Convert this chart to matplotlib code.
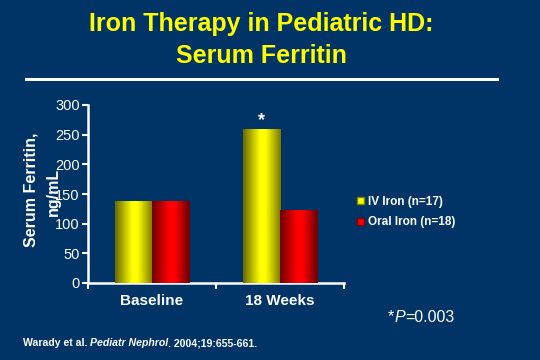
import numpy as np
import matplotlib
matplotlib.use("Agg")
import matplotlib.pyplot as plt
from matplotlib.colors import LinearSegmentedColormap
from matplotlib.offsetbox import TextArea, HPacker, AnchoredOffsetbox

plt.rcParams['font.family'] = ['Liberation Sans', 'DejaVu Sans']

categories = ["Baseline", "18 Weeks"]
iv_iron = [138, 259]
oral_iron = [138, 123]
series_labels = ["IV Iron (n=17)", "Oral Iron (n=18)"]
y_ticks = [0, 50, 100, 150, 200, 250, 300]

BG = '#003366'
fig = plt.figure(figsize=(5.4, 3.6), dpi=100, facecolor=BG)

# Title
fig.text(261/540, 1-24/360, "Iron Therapy in Pediatric HD:", color='#FFFF00',
         fontsize=18, fontweight='bold', ha='center', va='center')
fig.text(261/540, 1-56/360, "Serum Ferritin", color='#FFFF00',
         fontsize=18, fontweight='bold', ha='center', va='center')
fig.add_artist(plt.Line2D([26/540, 497/540], [1-79/360, 1-79/360],
                          color='white', lw=2.2, transform=fig.transFigure))

ax = fig.add_axes([88/540, 1-283/360, 256/540, 178/360])
ax.set_facecolor(BG)

x = np.arange(len(categories))
w = 0.29
b1 = ax.bar(x - w/2, iv_iron, w, color='#FFFF00', label=series_labels[0], zorder=2)
b2 = ax.bar(x + w/2, oral_iron, w, color='#FF0000', label=series_labels[1], zorder=2)

cm_y = LinearSegmentedColormap.from_list('y', [(0, '#6A6A00'), (0.45, '#FFFF00'), (0.6, '#FFFF00'), (1, '#7A7A00')])
cm_r = LinearSegmentedColormap.from_list('r', [(0, '#700000'), (0.45, '#FF0000'), (0.6, '#FF0000'), (1, '#6A0000')])
grad = np.linspace(0, 1, 64).reshape(1, -1)
for bars, cm in ((b1, cm_y), (b2, cm_r)):
    for p in bars:
        x0, wd, h = p.get_x(), p.get_width(), p.get_height()
        ax.imshow(grad, cmap=cm, extent=[x0, x0 + wd, 0, h], aspect='auto',
                  interpolation='bicubic', zorder=3)

ax.set_xlim(-0.5, 1.5)
ax.set_ylim(0, 300)
ax.set_yticks(y_ticks)
ax.set_yticklabels([str(t) for t in y_ticks])
ax.set_xticks(x)
ax.set_xticklabels(categories, fontsize=11, fontweight='bold', color='white')
ax.set_xticks([-0.5, 0.5, 1.5], minor=True)
ax.tick_params(axis='x', which='major', length=0, pad=8)
ax.tick_params(axis='x', which='minor', length=4, width=1.5, color='white', direction='out')
ax.tick_params(axis='y', length=4, width=1.5, color='white', labelcolor='white',
               labelsize=10.5, pad=2)
for s in ('top', 'right'):
    ax.spines[s].set_visible(False)
for s in ('left', 'bottom'):
    ax.spines[s].set_color('white')
    ax.spines[s].set_linewidth(1.8)

# asterisk
ax.annotate("*", xy=(x[1] - w/2, iv_iron[1]), xytext=(0, 0), textcoords='offset points',
            ha='center', va='bottom', color='white', fontsize=13, fontweight='bold')

# y-label (two lines, as in the reference)
fig.text(31/540, 1-190/360, "Serum Ferritin,", rotation=90, color='white',
         fontsize=11.5, fontweight='bold', ha='center', va='center')
fig.text(53/540, 1-192/360, "ng/mL", rotation=90, color='white',
         fontsize=11.5, fontweight='bold', ha='center', va='center')

# legend
leg = ax.legend(handles=[b1, b2], loc='center left',
                bbox_to_anchor=(346/540, 1-212/360), bbox_transform=fig.transFigure,
                frameon=False, handlelength=0.6, handleheight=0.6, handletextpad=0.4,
                labelspacing=0.75, prop={'weight': 'bold', 'size': 8.5})
for t in leg.get_texts():
    t.set_color('white')
for hp, ec in zip(leg.legend_handles, ['#808000', '#800000']):
    hp.set_edgecolor(ec)
    hp.set_linewidth(1)

# P value
pbox = HPacker(children=[
    TextArea("*", textprops=dict(color='white', fontsize=11.5)),
    TextArea("P", textprops=dict(color='white', fontsize=11.5, style='italic')),
    TextArea("=0.003", textprops=dict(color='white', fontsize=11.5)),
], pad=0, sep=0)
fig.add_artist(AnchoredOffsetbox(loc='center left', child=pbox, frameon=False, pad=0,
                                 borderpad=0, bbox_to_anchor=(388/540, 1-317/360),
                                 bbox_transform=fig.transFigure))

# citation
cbox = HPacker(children=[
    TextArea("Warady et al. ", textprops=dict(color='white', fontsize=7.6, weight='bold')),
    TextArea("Pediatr Nephrol", textprops=dict(color='white', fontsize=7.6, weight='bold', style='italic')),
    TextArea(". 2004;19:655-661.", textprops=dict(color='white', fontsize=7.6, weight='bold')),
], pad=0, sep=0)
fig.add_artist(AnchoredOffsetbox(loc='center left', child=cbox, frameon=False, pad=0,
                                 borderpad=0, bbox_to_anchor=(23/540, 1-343/360),
                                 bbox_transform=fig.transFigure))

fig.savefig("out.png", dpi=100, facecolor=BG)
